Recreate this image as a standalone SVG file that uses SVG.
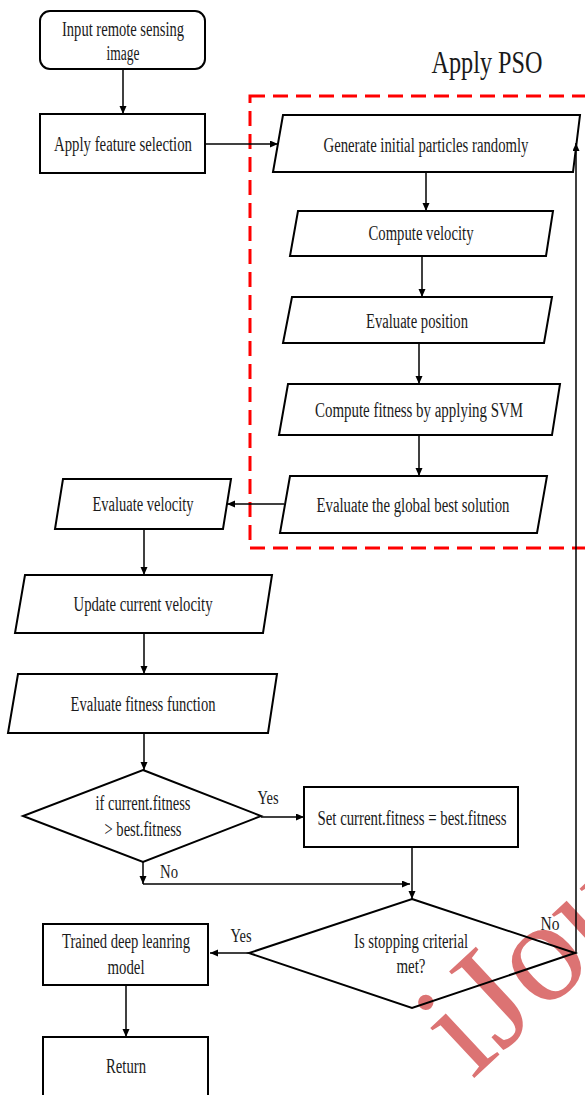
<svg xmlns="http://www.w3.org/2000/svg" width="585" height="1095" viewBox="0 0 585 1095">
<style>
.bg{fill:#ffffff}
.box{fill:none;stroke:#000;stroke-width:2}
.t{font-family:"Liberation Serif","Times New Roman",serif;font-size:20px;text-anchor:middle;fill:#1a1a1a}
.lb{font-family:"Liberation Serif","Times New Roman",serif;font-size:19px;text-anchor:middle;fill:#1a1a1a}
.c{fill:none;stroke:#000;stroke-width:1.5}
.ca{fill:none;stroke:#000;stroke-width:1.5;marker-end:url(#ah)}
.pso{fill:none;stroke:#ff0000;stroke-width:3;stroke-dasharray:15 8}
.wm{font-family:"Liberation Serif","Times New Roman",serif;font-size:145px;fill:#dc7373}
</style>
<defs>
<marker id="ah" markerUnits="userSpaceOnUse" markerWidth="9" markerHeight="8" refX="8" refY="3.5" orient="auto">
<path d="M0,0 L8,3.5 L0,7 z" fill="#000"/>
</marker>
</defs>
<rect class="bg" x="0" y="0" width="585" height="1095"/>
<text class="wm" transform="translate(472,1080) rotate(-43)">iJou</text>

<g id="pso-frame">
<rect class="pso" x="250" y="96" width="345" height="452"/>
<text class="t" x="487" y="73" style="font-size:31px" textLength="111" lengthAdjust="spacingAndGlyphs">Apply PSO</text>
</g>

<g id="n-input">
<rect class="box" x="40" y="11" width="165" height="58" rx="10"/>
<text class="t" x="123" y="36" textLength="122" lengthAdjust="spacingAndGlyphs">Input remote sensing</text>
<text class="t" x="123" y="60" textLength="33" lengthAdjust="spacingAndGlyphs">image</text>
</g>
<g id="n-feature">
<rect class="box" x="40" y="114" width="165" height="59"/>
<text class="t" x="123" y="151" textLength="138" lengthAdjust="spacingAndGlyphs">Apply feature selection</text>
</g>
<g id="n-generate">
<polygon class="box" points="283,115 580,115 573,172 273,172"/>
<text class="t" x="426" y="152" textLength="205" lengthAdjust="spacingAndGlyphs">Generate initial particles randomly</text>
</g>
<g id="n-compvel">
<polygon class="box" points="298,211 553,211 546,256 290,256"/>
<text class="t" x="421" y="240" textLength="105" lengthAdjust="spacingAndGlyphs">Compute velocity</text>
</g>
<g id="n-evalpos">
<polygon class="box" points="292,297 552,297 544,343 283,343"/>
<text class="t" x="417" y="328" textLength="102" lengthAdjust="spacingAndGlyphs">Evaluate position</text>
</g>
<g id="n-fitness">
<polygon class="box" points="288,384 560,384 552,435 279,435"/>
<text class="t" x="419" y="417" textLength="208" lengthAdjust="spacingAndGlyphs">Compute fitness by applying SVM</text>
</g>
<g id="n-global">
<polygon class="box" points="290,476 547,476 537,533 280,533"/>
<text class="t" x="413" y="512" textLength="193" lengthAdjust="spacingAndGlyphs">Evaluate the global best solution</text>
</g>
<g id="n-evalvel">
<polygon class="box" points="63,479 231,479 223,529 55,529"/>
<text class="t" x="143" y="511" textLength="101" lengthAdjust="spacingAndGlyphs">Evaluate velocity</text>
</g>
<g id="n-update">
<polygon class="box" points="25,575 272,575 263,633 15,633"/>
<text class="t" x="143" y="611" textLength="139" lengthAdjust="spacingAndGlyphs">Update current velocity</text>
</g>
<g id="n-evalfit">
<polygon class="box" points="18,674 277,674 268,733 8,733"/>
<text class="t" x="143" y="711" textLength="145" lengthAdjust="spacingAndGlyphs">Evaluate fitness function</text>
</g>
<g id="n-if">
<polygon class="box" points="143,770 261,816 143,862 23,816"/>
<text class="t" x="143" y="810" textLength="95" lengthAdjust="spacingAndGlyphs">if current.fitness</text>
<text class="t" x="143" y="836" textLength="77" lengthAdjust="spacingAndGlyphs">&gt; best.fitness</text>
</g>
<g id="n-set">
<rect class="box" x="304" y="787" width="214" height="60"/>
<text class="t" x="412" y="825" textLength="189" lengthAdjust="spacingAndGlyphs">Set current.fitness = best.fitness</text>
</g>
<g id="n-stop">
<polygon class="box" points="412,899 575,953 412,1008 249,953"/>
<text class="t" x="411" y="948" textLength="114" lengthAdjust="spacingAndGlyphs">Is stopping criterial</text>
<text class="t" x="411" y="973" textLength="29" lengthAdjust="spacingAndGlyphs">met?</text>
</g>
<g id="n-trained">
<rect class="box" x="43" y="924" width="165" height="61"/>
<text class="t" x="126" y="948" textLength="128" lengthAdjust="spacingAndGlyphs">Trained deep leanring</text>
<text class="t" x="126" y="974" textLength="37" lengthAdjust="spacingAndGlyphs">model</text>
</g>
<g id="n-return">
<rect class="box" x="43" y="1037" width="165" height="70"/>
<text class="t" x="126" y="1073" textLength="40" lengthAdjust="spacingAndGlyphs">Return</text>
</g>

<g id="connectors">
<path class="ca" d="M123,69 L123,114"/>
<path class="ca" d="M205,144 L278,144"/>
<path class="ca" d="M426,172 L426,211"/>
<path class="ca" d="M422,256 L422,297"/>
<path class="ca" d="M419,343 L419,384"/>
<path class="ca" d="M419,435 L419,476"/>
<path class="ca" d="M284,504 L227,504"/>
<path class="ca" d="M144,529 L144,575"/>
<path class="ca" d="M144,633 L144,674"/>
<path class="ca" d="M144,733 L144,770"/>
<path class="ca" d="M261,817 L304,817"/>
<path class="ca" d="M143,862 L143,884"/>
<path class="ca" d="M143,884 L410,884"/>
<path class="ca" d="M412,847 L412,899"/>
<path class="ca" d="M249,953 L210,953"/>
<path class="ca" d="M126,985 L126,1037"/>
<path class="ca" d="M575,953 L576,953 L576,143"/>
<text class="lb" x="268" y="804" textLength="21" lengthAdjust="spacingAndGlyphs">Yes</text>
<text class="lb" x="169" y="878" textLength="18" lengthAdjust="spacingAndGlyphs">No</text>
<text class="lb" x="241" y="942" textLength="21" lengthAdjust="spacingAndGlyphs">Yes</text>
<text class="lb" x="550" y="930" textLength="19" lengthAdjust="spacingAndGlyphs">No</text>
</g>
</svg>
